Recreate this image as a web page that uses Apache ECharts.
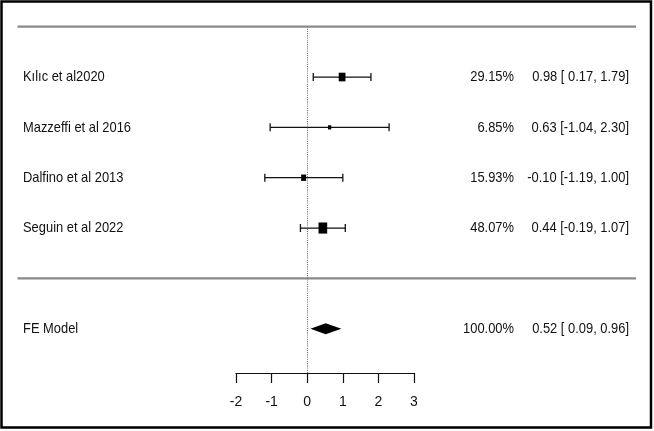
<!DOCTYPE html>
<html>
<head>
<meta charset="utf-8">
<script src="https://cdn.jsdelivr.net/npm/echarts@6/dist/echarts.min.js"></script>
<style>html,body{margin:0;padding:0;background:#fff;}#chart{width:654px;height:431px;}</style>
</head>
<body>
<div id="chart"></div>
<script>
// ---- data ----
const studies = ['Kılıc et al2020', 'Mazzeffi et al 2016', 'Dalfino et al 2013', 'Seguin et al 2022'];
const estimates = [0.98, 0.63, -0.10, 0.44];
const lowerCI = [0.17, -1.04, -1.19, -0.19];
const upperCI = [1.79, 2.30, 1.00, 1.07];
const weights = [29.15, 6.85, 15.93, 48.07];
const studyRows = [4, 3, 2, 1];
const modelLabel = 'FE Model';
const modelEstimate = [0.52];
const modelLower = [0.09];
const modelUpper = [0.96];
const modelWeight = [100.00];
const modelRow = [-1];
const separatorRows = [5, 0];
const tickValues = [-2, -1, 0, 1, 2, 3];
const tickLabels = ['-2', '-1', '0', '1', '2', '3'];

// ---- helpers ----
function pad(s, w) { while (s.length < w) s = ' ' + s; return s; }
const allLower = lowerCI.concat(modelLower).map(v => v.toFixed(2));
const lw = Math.max(...allLower.map(s => s.length));
function ciText(e, l, u) { return e.toFixed(2) + ' [' + pad(l.toFixed(2), lw) + ', ' + u.toFixed(2) + ']'; }

const FONT = '"Liberation Sans", Arial, sans-serif';
const TXT = '#111';
const SX = 0.86;
const FS = 15;
const X_LABEL = 23, X_WEIGHT = 514, X_CI = 629;

function textEl(x, y, text, align) {
  return { type: 'text', x: x, y: y, scaleX: SX,
    style: { text: text, x: 0, y: 0, align: align, verticalAlign: 'middle', fill: TXT, font: FS + 'px ' + FONT } };
}

const studyData = studies.map((s, i) => [studyRows[i], estimates[i], lowerCI[i], upperCI[i], weights[i], i]);

const chart = echarts.init(document.getElementById('chart'), null, { renderer: 'canvas' });
chart.setOption({
  animation: false,
  backgroundColor: '#fff',
  grid: { left: 236, right: 240, top: 26.7, bottom: 58 },
  xAxis: {
    type: 'value', min: -2, max: 3, interval: 1,
    splitLine: { show: false },
    axisLine: { show: true, onZero: false, lineStyle: { color: '#111', width: 1.2 } },
    axisTick: { show: true, length: 10, lineStyle: { color: '#111', width: 1.2 } },
    axisLabel: { fontSize: 14, color: TXT, fontFamily: FONT, margin: 22,
      formatter: v => tickLabels[tickValues.indexOf(Math.round(v))] }
  },
  yAxis: { type: 'value', min: -1.88, max: 5, show: false },
  graphic: [{
    type: 'rect', shape: { x: 1.5, y: 1.5, width: 649.5, height: 426 },
    style: { fill: 'none', stroke: '#000', lineWidth: 2.5 }, silent: true
  }],
  series: [
    {
      type: 'custom', clip: false, data: separatorRows.map(r => [0, r]),
      renderItem: function (params, api) {
        const y = api.coord([0, api.value(1)])[1];
        return { type: 'line', shape: { x1: 17.5, y1: y, x2: 636, y2: y },
          style: { stroke: '#8a8a8a', lineWidth: 2.2 } };
      }
    },
    {
      type: 'custom', clip: false, data: studyData,
      markLine: {
        silent: true, symbol: 'none', label: { show: false },
        lineStyle: { type: 'dotted', color: '#777', width: 1.1 },
        data: [{ xAxis: 0 }]
      },
      renderItem: function (params, api) {
        const row = api.value(0);
        const pe = api.coord([api.value(1), row]);
        const pl = api.coord([api.value(2), row]);
        const pu = api.coord([api.value(3), row]);
        const w = api.value(4);
        const i = api.value(5);
        const y = pe[1];
        const sw = 1.25 * Math.sqrt(w), sh = 1.6 * Math.sqrt(w);
        const st = { stroke: '#111', lineWidth: 1.3 };
        return { type: 'group', children: [
          { type: 'line', shape: { x1: pl[0], y1: y, x2: pu[0], y2: y }, style: st },
          { type: 'line', shape: { x1: pl[0], y1: y - 4, x2: pl[0], y2: y + 4 }, style: st },
          { type: 'line', shape: { x1: pu[0], y1: y - 4, x2: pu[0], y2: y + 4 }, style: st },
          { type: 'rect', shape: { x: pe[0] - sw / 2, y: y - sh / 2, width: sw, height: sh }, style: { fill: '#000' } },
          textEl(X_LABEL, y, studies[i], 'left'),
          textEl(X_WEIGHT, y, weights[i].toFixed(2) + '%', 'right'),
          textEl(X_CI, y, ciText(estimates[i], lowerCI[i], upperCI[i]), 'right')
        ] };
      }
    },
    {
      type: 'custom', clip: false,
      data: modelEstimate.map((e, i) => [modelRow[i], e, modelLower[i], modelUpper[i], modelWeight[i]]),
      renderItem: function (params, api) {
        const row = api.value(0);
        const pe = api.coord([api.value(1), row]);
        const pl = api.coord([api.value(2), row]);
        const pu = api.coord([api.value(3), row]);
        const y = pe[1];
        return { type: 'group', children: [
          { type: 'polygon', shape: { points: [[pl[0], y], [pe[0], y - 5.5], [pu[0], y], [pe[0], y + 5.5]] },
            style: { fill: '#000' } },
          textEl(X_LABEL, y, modelLabel, 'left'),
          textEl(X_WEIGHT, y, api.value(4).toFixed(2) + '%', 'right'),
          textEl(X_CI, y, ciText(modelEstimate[0], modelLower[0], modelUpper[0]), 'right')
        ] };
      }
    }
  ]
});
</script>
</body>
</html>
